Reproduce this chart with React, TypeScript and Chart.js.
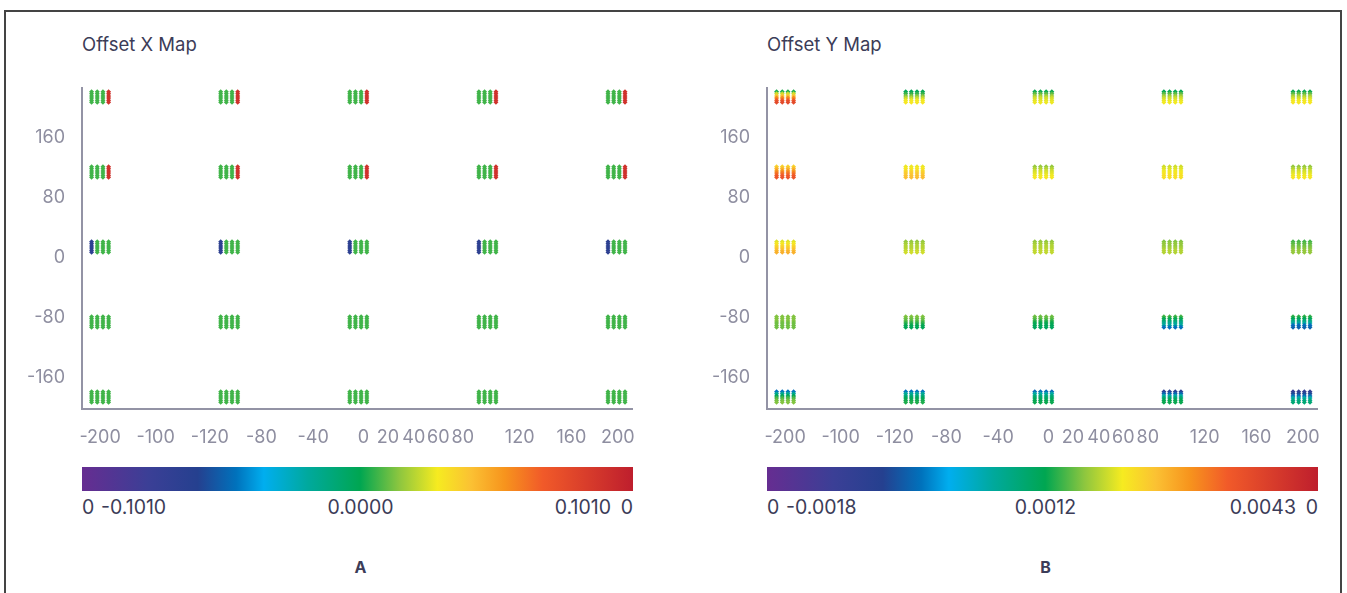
import React, { useEffect, useRef } from "react";
import { Chart, registerables } from "chart.js";

Chart.register(...registerables);

// Grid of measurement sites: 5 x 5 clusters, each 4 columns x 6 rows of points
const clusterX = [-200, -100, 0, 100, 200];
const clusterY = [200, 100, 0, -100, -200];
const columnOffsets = [-6.6, -2.2, 2.2, 6.6];
const rowOffsets = [18, 15.2, 12.4, 9.6, 6.8, 4];

// Axis ticks
const yTicks = [160, 80, 0, -80, -160];
const xTickValues = [-200, -157, -115, -75, -35, 4, 23, 43, 62, 81, 125, 165, 201];
const xTickLabels = ["-200", "-100", "-120", "-80", "-40", "0", "20", "40", "60", "80", "120", "160", "200"];

// Offset X: one value per column in each cluster (clusters listed top row first, left to right)
const offsetXColumns: number[][] = [
  [0.0075, 0.0075, 0.0075, 0.09], [0.0075, 0.0075, 0.0075, 0.09], [0.0075, 0.0075, 0.0075, 0.09], [0.0075, 0.0075, 0.0075, 0.09], [0.0075, 0.0075, 0.0075, 0.09],
  [0.0075, 0.0075, 0.0075, 0.09], [0.0075, 0.0075, 0.0075, 0.09], [0.0075, 0.0075, 0.0075, 0.09], [0.0075, 0.0075, 0.0075, 0.09], [0.0075, 0.0075, 0.0075, 0.09],
  [-0.065, 0.0075, 0.0075, 0.0075], [-0.065, 0.0075, 0.0075, 0.0075], [-0.065, 0.0075, 0.0075, 0.0075], [-0.065, 0.0075, 0.0075, 0.0075], [-0.065, 0.0075, 0.0075, 0.0075],
  [0.0075, 0.0075, 0.0075, 0.0075], [0.0075, 0.0075, 0.0075, 0.0075], [0.0075, 0.0075, 0.0075, 0.0075], [0.0075, 0.0075, 0.0075, 0.0075], [0.0075, 0.0075, 0.0075, 0.0075],
  [0.0075, 0.0075, 0.0075, 0.0075], [0.0075, 0.0075, 0.0075, 0.0075], [0.0075, 0.0075, 0.0075, 0.0075], [0.0075, 0.0075, 0.0075, 0.0075], [0.0075, 0.0075, 0.0075, 0.0075],
];

// Offset Y: one value per row (top to bottom) in each cluster
const offsetYRows: number[][] = [
  [0.00137, 0.00198, 0.00247, 0.00296, 0.00332, 0.00357],
  [0.00125, 0.00143, 0.00168, 0.00192, 0.0021, 0.00217],
  [0.00131, 0.00156, 0.0018, 0.00198, 0.00204, 0.0021],
  [0.00128, 0.00155, 0.00178, 0.00196, 0.00205, 0.00212],
  [0.00131, 0.00156, 0.0018, 0.00198, 0.0021, 0.00217],

  [0.00235, 0.00259, 0.00284, 0.00308, 0.00326, 0.00339],
  [0.0021, 0.00217, 0.00229, 0.00241, 0.00247, 0.00253],
  [0.00174, 0.00186, 0.00198, 0.00204, 0.0021, 0.00217],
  [0.00198, 0.00204, 0.0021, 0.00217, 0.00223, 0.00223],
  [0.00174, 0.00186, 0.00198, 0.00204, 0.0021, 0.00217],

  [0.00204, 0.00217, 0.00229, 0.00241, 0.00253, 0.00265],
  [0.00174, 0.0018, 0.00186, 0.00186, 0.00192, 0.00198],
  [0.00174, 0.0018, 0.00186, 0.00186, 0.00192, 0.00192],
  [0.00168, 0.00174, 0.00174, 0.0018, 0.00186, 0.00186],
  [0.00149, 0.00156, 0.00162, 0.00168, 0.00174, 0.00174],

  [0.00168, 0.00168, 0.00168, 0.00162, 0.00162, 0.00162],
  [0.00168, 0.00162, 0.00156, 0.00143, 0.00131, 0.00125],
  [0.00162, 0.00156, 0.00143, 0.00131, 0.00125, 0.00119],
  [0.00149, 0.00131, 0.00107, 0.00082, 0.0007, -0.00009],
  [0.00143, 0.00125, 0.00095, 0.0007, -0.00009, -0.00021],

  [-0.00009, 0.00076, 0.00125, 0.00149, 0.00162, 0.00168],
  [-0.00009, 0.0007, 0.00095, 0.00119, 0.00131, 0.00137],
  [-0.00015, 0.00064, 0.00095, 0.00113, 0.00125, 0.00131],
  [-0.00064, -0.00021, 0.00064, 0.00101, 0.00125, 0.00131],
  [-0.00089, -0.00046, -0.00015, 0.00064, 0.00088, 0.00101],
];

// Colour scale domains and colour bar labels
const offsetXRange = [-0.101, 0.101];
const offsetYRange = [-0.0018, 0.0043];
const offsetXBarLabels = ["0", "-0.1010", "0.0000", "0.1010", "0"];
const offsetYBarLabels = ["0", "-0.0018", "0.0012", "0.0043", "0"];

// Spectrum colour map
const colormapStops = [0, 0.12, 0.21, 0.28, 0.33, 0.41, 0.505, 0.576, 0.645, 0.706, 0.767, 0.836, 1];
const colormapColors = [
  "#662d91", "#3b3f96", "#25408f", "#0072bc", "#00aeef", "#00a99d", "#00a651",
  "#8dc63f", "#f6eb20", "#fbc133", "#f7941d", "#f15a29", "#be1e2d",
];

const AXIS_COLOR = "#9393a5";
const TICK_COLOR = "#8e8ea0";
const TEXT_COLOR = "#3c3c58";
const FONT = "Inter, 'Noto Sans', sans-serif";

function hexToRgb(hex: string): number[] {
  const n = parseInt(hex.slice(1), 16);
  return [(n >> 16) & 255, (n >> 8) & 255, n & 255];
}

function colorAt(f: number): string {
  const t = Math.min(1, Math.max(0, f));
  let i = 0;
  while (i < colormapStops.length - 2 && t > colormapStops[i + 1]) i++;
  const a = hexToRgb(colormapColors[i]);
  const b = hexToRgb(colormapColors[i + 1]);
  const u = (t - colormapStops[i]) / (colormapStops[i + 1] - colormapStops[i]);
  const c = a.map((v, k) => Math.round(v + (b[k] - v) * u));
  return `rgb(${c[0]},${c[1]},${c[2]})`;
}

function gradientCss(): string {
  const parts = colormapColors.map((c, i) => `${c} ${(colormapStops[i] * 100).toFixed(1)}%`);
  return `linear-gradient(to right, ${parts.join(", ")})`;
}

type Site = { x: number; y: number; v: number };

function buildSites(valueOf: (cluster: number, col: number, row: number) => number): Site[] {
  const sites: Site[] = [];
  clusterY.forEach((cy, r) => {
    clusterX.forEach((cx, c) => {
      const k = r * clusterX.length + c;
      rowOffsets.forEach((dy, i) => {
        columnOffsets.forEach((dx, j) => {
          sites.push({ x: cx + dx, y: cy + dy, v: valueOf(k, j, i) });
        });
      });
    });
  });
  return sites;
}

const offsetXSites = buildSites((k, j) => offsetXColumns[k][j]);
const offsetYSites = buildSites((k, _j, i) => offsetYRows[k][i]);

function MapChart({ sites, range }: { sites: Site[]; range: number[] }) {
  const ref = useRef<HTMLCanvasElement | null>(null);
  useEffect(() => {
    if (!ref.current) return;
    const colors = sites.map((s) => colorAt((s.v - range[0]) / (range[1] - range[0])));
    const tickFont = { family: FONT, size: 18 };
    const chart = new Chart(ref.current, {
      type: "scatter",
      data: {
        datasets: [
          {
            data: sites.map((s) => ({ x: s.x, y: s.y })),
            pointStyle: "rectRot",
            pointRadius: 2.5,
            pointBorderWidth: 0,
            backgroundColor: colors,
            borderColor: colors,
            clip: false as any,
          },
        ],
      },
      options: {
        animation: false,
        responsive: false,
        maintainAspectRatio: false,
        layout: { padding: { top: 8, right: 18, bottom: 0, left: 0 } },
        plugins: { legend: { display: false }, tooltip: { enabled: false } },
        scales: {
          x: {
            type: "linear",
            min: -214,
            max: 212,
            grid: { display: false, drawTicks: false },
            border: { color: AXIS_COLOR, width: 2 },
            afterBuildTicks: (s: any) => {
              s.ticks = xTickValues.map((v) => ({ value: v }));
            },
            afterFit: (s: any) => {
              s.height = 41;
              s.paddingLeft = 0;
              s.paddingRight = 0;
            },
            ticks: {
              padding: 18,
              color: TICK_COLOR,
              font: tickFont,
              autoSkip: false,
              maxRotation: 0,
              callback: (_v: any, i: number) => xTickLabels[i],
            },
          },
          y: {
            type: "linear",
            min: -205,
            max: 223,
            grid: { display: false, drawTicks: false },
            border: { color: AXIS_COLOR, width: 2 },
            afterBuildTicks: (s: any) => {
              s.ticks = yTicks.map((v) => ({ value: v }));
            },
            afterFit: (s: any) => {
              s.width = 62;
              s.paddingTop = 0;
              s.paddingBottom = 0;
            },
            ticks: {
              padding: 17,
              labelOffset: 2,
              color: TICK_COLOR,
              font: tickFont,
              callback: (v: any) => String(v),
            },
          },
        },
      },
    } as any);
    return () => chart.destroy();
  }, [sites, range]);
  return <canvas ref={ref} width={630} height={370} style={{ position: "absolute", left: -62, top: -8, width: 630, height: 370 }} />;
}

function Panel({ left, title, letter, sites, range, barLabels }: {
  left: number; title: string; letter: string; sites: Site[]; range: number[]; barLabels: string[];
}) {
  const barWidth = 551;
  const label = (text: string, style: React.CSSProperties) => (
    <div style={{ position: "absolute", top: 496, fontSize: 19.5, lineHeight: "22px", color: TEXT_COLOR, whiteSpace: "nowrap", ...style }}>{text}</div>
  );
  return (
    <div style={{ position: "absolute", left, top: 0, width: barWidth, height: 593 }}>
      <div style={{ position: "absolute", left: 0, top: 33, fontSize: 18.5, lineHeight: "22px", color: TEXT_COLOR }}>{title}</div>
      <div style={{ position: "absolute", left: 0, top: 88 }}>
        <MapChart sites={sites} range={range} />
      </div>
      <div style={{ position: "absolute", left: 0, top: 467, width: barWidth, height: 24, background: gradientCss() }} />
      {label(barLabels[0], { left: 0 })}
      {label(barLabels[1], { left: 19 })}
      {label(barLabels[2], { left: 0, width: barWidth + 6, textAlign: "center" })}
      {label(barLabels[3], { right: 22 })}
      {label(barLabels[4], { right: 0 })}
      <div style={{ position: "absolute", left: 0, width: barWidth + 6, top: 557, textAlign: "center", fontSize: 16, fontWeight: 700, lineHeight: "20px", color: TEXT_COLOR }}>{letter}</div>
    </div>
  );
}

export default function App() {
  return (
    <div style={{ position: "absolute", left: 0, top: 0, width: 1347, height: 593, overflow: "hidden", background: "#fff", fontFamily: FONT }}>
      <div style={{ position: "absolute", left: 4, top: 10, width: 1334, height: 620, border: "2px solid #444" }} />
      <Panel left={82} title="Offset X Map" letter="A" sites={offsetXSites} range={offsetXRange} barLabels={offsetXBarLabels} />
      <Panel left={767} title="Offset Y Map" letter="B" sites={offsetYSites} range={offsetYRange} barLabels={offsetYBarLabels} />
    </div>
  );
}
